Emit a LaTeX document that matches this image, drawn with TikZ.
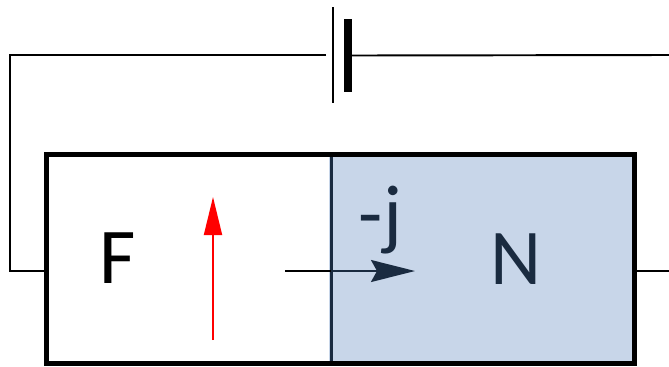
\documentclass[tikz,border=0pt]{standalone}
\usepackage{fontspec}
\setmainfont{Carlito}
\usetikzlibrary{arrows.meta}
\definecolor{nfill}{HTML}{C8D6E9}
\definecolor{navy}{HTML}{1A2B40}
\tikzset{
    wire/.style={line width=1.1pt},
    letter/.style={inner sep=0pt, font=\fontsize{45}{54}\selectfont},
}

\begin{document}
\begin{tikzpicture}[x=0.02cm, y=-0.02cm, >=stealth]
    \useasboundingbox (0,0) rectangle (669,366);

    % --- 1. regions ---
    \pgfmathsetmacro{\ymid}{271}
    \pgfmathsetmacro{\ywire}{55}
    \node[fill=nfill, inner sep=0pt, minimum width=6.12cm, minimum height=4.16cm] (nreg) at (482,259) {};
    \draw[navy, line width=1.3pt] (331.5,155) coordinate (dtop) -- (331.5,363) coordinate (dbot);
    \node[draw, line width=2.9pt, inner sep=0pt, minimum width=11.76cm, minimum height=4.18cm] (frame) at (340.5,259) {};

    % --- 2. battery ---
    \node[fill=black, inner sep=0pt, minimum width=0.04cm, minimum height=1.92cm] (thin) at (332.5,55) {};
    \node[fill=black, inner sep=0pt, minimum width=0.15cm, minimum height=1.46cm] (thick) at (348,55.5) {};

    % --- 3. wires ---
    \coordinate (lgap) at (326,\ywire);
    \coordinate (redge) at (669,\ywire);
    \coordinate (ledge) at (10,\ywire);
    \coordinate (lcorner) at (10,\ymid);
    \coordinate (lfoot) at (45,\ymid);
    \coordinate (rfoot) at (637,\ymid);
    \coordinate (rend) at (669,\ymid);
    \draw[wire] (lgap) -- (ledge) -- (lcorner) -- (lfoot);
    \draw[wire] (thick.east) -- (redge);
    \draw[wire] (rfoot) -- (rend);

    % --- 4. arrows ---
    \coordinate (jtail) at (285,\ymid);
    \coordinate (jmid) at (331,\ymid);
    \coordinate (jtip) at (415,\ymid);
    \coordinate (mbot) at (213,340);
    \coordinate (mtop) at (213,197);
    \draw[wire] (jtail) -- (jmid);
    \draw[navy, wire, -{Stealth[length=0.88cm, width=0.44cm, inset=0.12cm]}] (jmid) -- (jtip);
    \draw[red, wire, -{Triangle[length=0.76cm, width=0.36cm]}] (mbot) -- (mtop);

    % --- 5. labels ---
    \node[letter] (flab) at (118,258) {F};
    \node[letter, text=navy] (nlab) at (516.5,259) {N};
    \node[letter, text=navy] (jlab) at (380.5,220.5) {-j};
\end{tikzpicture}
\end{document}
